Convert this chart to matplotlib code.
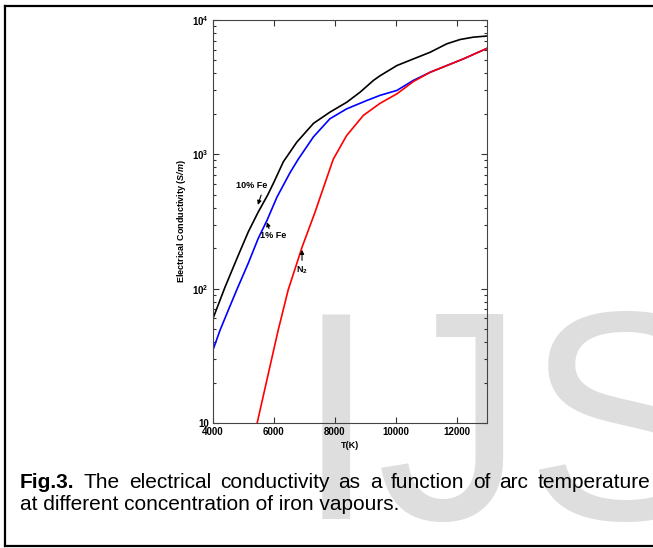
import numpy as np
import matplotlib
matplotlib.use("Agg")
import matplotlib.pyplot as plt
from matplotlib.lines import Line2D
from matplotlib.ticker import FixedLocator, FixedFormatter, LogLocator, NullFormatter

plt.rcParams['font.family'] = ['Liberation Sans', 'DejaVu Sans']
plt.rcParams['mathtext.fontset'] = 'custom'
plt.rcParams['mathtext.rm'] = 'Liberation Sans'
plt.rcParams['mathtext.bf'] = 'Liberation Sans:bold'
plt.rcParams['mathtext.it'] = 'Liberation Sans:italic'
plt.rcParams['mathtext.bfit'] = 'Liberation Sans:italic:bold'

# 10% Fe
T_10fe = [4000, 4390, 4820, 5160, 5480, 5800, 6000, 6310, 6750, 7300, 7840,
          8390, 8830, 9270, 9490, 10040, 10580, 11130, 11680, 12120, 12550, 13000]
s_10fe = [60, 102, 175, 265, 370, 500, 620, 880, 1230, 1700, 2060,
          2440, 2900, 3550, 3850, 4580, 5130, 5750, 6650, 7160, 7450, 7600]

# 1% Fe
T_1fe = [4000, 4230, 4500, 4780, 5160, 5480, 5780, 6100, 6530, 6800, 7300,
         7840, 8390, 9040, 9490, 10040, 10580, 11130, 11680, 12230, 13000]
s_1fe = [35, 49, 69, 98, 155, 235, 325, 480, 730, 920, 1350,
         1840, 2180, 2510, 2750, 2990, 3550, 4080, 4580, 5140, 6150]

# N2
T_n2 = [5450, 6140, 6470, 6930, 7350, 7520, 7950, 8390, 8940, 9490, 10040,
        10580, 11130, 11680, 12230, 13000]
s_n2 = [10, 49, 98, 205, 370, 480, 920, 1380, 1950, 2400, 2820,
        3480, 4080, 4580, 5140, 6150]

x_ticks = [4000, 6000, 8000, 10000, 12000]
y_ticks = [10, 100, 1000, 10000]
y_ticklabels = ['10', r'$\mathbf{10^{2}}$', r'$\mathbf{10^{3}}$', r'$\mathbf{10^{4}}$']

caption1 = ["Fig.3.", "The", "electrical", "conductivity", "as", "a", "function",
            "of", "arc", "temperature"]
caption2 = "at different concentration of iron vapours."

fig = plt.figure(figsize=(6.53, 5.48), dpi=100)
W, H = 653, 548

# watermark behind everything
fig.text(295 / W, 1 - 519 / H, "IJS", fontsize=214, color='#dedede',
         ha='left', va='baseline', zorder=-5)

ax = fig.add_axes([213 / W, 1 - 423 / H, 274 / W, 403 / H])
ax.patch.set_alpha(0)

ax.plot(T_10fe, s_10fe, color='black', lw=1.2)
ax.plot(T_1fe, s_1fe, color='#0000ff', lw=1.2)
ax.plot(T_n2, s_n2, color='#ff0000', lw=1.2)

ax.set_yscale('log')
ax.set_xlim(4000, 13000)
ax.set_ylim(10, 10000)
ax.xaxis.set_major_locator(FixedLocator(x_ticks))
ax.yaxis.set_major_locator(FixedLocator(y_ticks))
ax.yaxis.set_major_formatter(FixedFormatter(y_ticklabels))
ax.yaxis.set_minor_locator(LogLocator(base=10, subs=np.arange(2, 10)))
ax.yaxis.set_minor_formatter(NullFormatter())
ax.tick_params(which='both', direction='in', top=True, right=True,
               labelsize=7, width=0.8, color='#333333', pad=3)
ax.tick_params(which='major', length=4)
ax.tick_params(which='minor', length=2.5)
for lab in ax.get_xticklabels() + ax.get_yticklabels():
    lab.set_fontweight('bold')
for sp in ax.spines.values():
    sp.set_linewidth(0.8)
    sp.set_color('#444444')

ax.set_xlabel('T(K)', fontsize=6.5, fontweight='bold', labelpad=3)
ax.set_ylabel(r'Electrical Conductivity ($\mathbfit{S/m}$)', fontsize=6.5,
              fontweight='bold', labelpad=3)

# curve labels
arrow = dict(arrowstyle='-|>', color='black', lw=0.8, mutation_scale=6)
ax.text(5280, 587, '10% Fe', fontsize=6.5, fontweight='bold', ha='center', va='center')
ax.annotate('', xy=(5445, 402), xytext=(5610, 520), arrowprops=arrow)
ax.text(5990, 248, '1% Fe', fontsize=6.5, fontweight='bold', ha='center', va='center')
ax.annotate('', xy=(5740, 327), xytext=(5870, 268), arrowprops=arrow)
ax.text(6924, 136, r'N$_{\mathbf{2}}$', fontsize=6.5, fontweight='bold', ha='center', va='center')
ax.annotate('', xy=(6924, 204), xytext=(6924, 155), arrowprops=arrow)

# frame round the figure
for xs, ys in [([5, 5], [6, 546]), ([5, 653], [6, 6]), ([5, 653], [546, 546])]:
    fig.add_artist(Line2D([x / W for x in xs], [1 - y / H for y in ys],
                          color='black', lw=1.6, transform=fig.transFigure))

# caption, first line justified between x=20 and x=650
fig.canvas.draw()
renderer = fig.canvas.get_renderer()
words = []
for i, w in enumerate(caption1):
    t = fig.text(0, 1 - 482 / H, w, fontsize=15, va='center', ha='left',
                 fontweight='bold' if i == 0 else 'normal')
    words.append(t)
widths = [t.get_window_extent(renderer).width for t in words]
gap = (650 - 20 - sum(widths)) / (len(words) - 1)
x = 20
for t, wd in zip(words, widths):
    t.set_x(x / W)
    x += wd + gap
fig.text(20 / W, 1 - 505 / H, caption2, fontsize=15, va='center', ha='left')

fig.savefig('out.png', dpi=100)
